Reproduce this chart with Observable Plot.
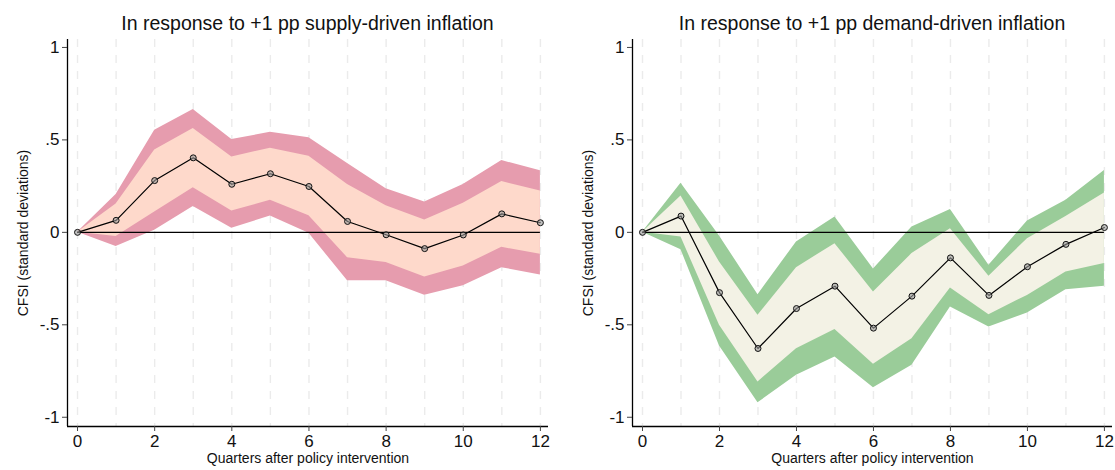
<!DOCTYPE html>
<html>
<head>
<meta charset="utf-8">
<script src="https://cdn.jsdelivr.net/npm/d3@7"></script>
<script src="https://cdn.jsdelivr.net/npm/@observablehq/plot@0.6"></script>
<style>
  html, body { margin: 0; padding: 0; background: #fff; }
  body { width: 1115px; height: 470px; position: relative; overflow: hidden; font-family: "Liberation Sans", Arial, sans-serif; }
  .panel { position: absolute; top: 0; width: 557px; height: 470px; }
  .title { position: absolute; top: 11px; font-size: 19.5px; line-height: 24px; color: #111; white-space: nowrap; text-align: center; }
  .panel svg { position: absolute; top: 39px; left: 0; overflow: visible; }
</style>
</head>
<body>
<div id="left" class="panel" style="left:0px"></div>
<div id="right" class="panel" style="left:558px"></div>
<script>
// ---------- data ----------
const quarters = [0, 1, 2, 3, 4, 5, 6, 7, 8, 9, 10, 11, 12];
const yTicks = [-1, -0.5, 0, 0.5, 1];
const xTicks = [0, 2, 4, 6, 8, 10, 12];

// Supply-driven inflation response
const supplyIRF     = [0, 0.065, 0.280, 0.403, 0.260, 0.317, 0.248, 0.059, -0.013, -0.088, -0.014, 0.100, 0.052];
const supplyUpper90 = [0, 0.205, 0.552, 0.664, 0.502, 0.541, 0.511, 0.372, 0.236, 0.164, 0.259, 0.388, 0.333];
const supplyUpper68 = [0, 0.153, 0.446, 0.561, 0.408, 0.455, 0.412, 0.259, 0.144, 0.067, 0.158, 0.275, 0.223];
const supplyLower68 = [0, -0.023, 0.110, 0.241, 0.115, 0.173, 0.090, -0.137, -0.163, -0.241, -0.182, -0.081, -0.119];
const supplyLower90 = [0, -0.077, 0.011, 0.140, 0.022, 0.088, -0.005, -0.262, -0.262, -0.340, -0.289, -0.191, -0.230];

// Demand-driven inflation response
const demandIRF     = [0, 0.088, -0.326, -0.628, -0.412, -0.291, -0.518, -0.345, -0.138, -0.341, -0.186, -0.065, 0.026];
const demandUpper90 = [0, 0.265, -0.020, -0.337, -0.052, 0.083, -0.198, 0.029, 0.123, -0.178, 0.061, 0.173, 0.335];
const demandUpper68 = [0, 0.196, -0.160, -0.449, -0.191, -0.061, -0.323, -0.115, 0.020, -0.238, -0.034, 0.086, 0.213];
const demandLower68 = [0, -0.025, -0.503, -0.809, -0.629, -0.526, -0.714, -0.575, -0.301, -0.445, -0.341, -0.214, -0.169];
const demandLower90 = [0, -0.094, -0.614, -0.922, -0.773, -0.674, -0.840, -0.719, -0.404, -0.512, -0.436, -0.310, -0.292];

const titles = ["In response to +1 pp supply-driven inflation", "In response to +1 pp demand-driven inflation"];
const yLabel = "CFSI (standard deviations)";
const xLabel = "Quarters after policy intervention";

const darkColors = ["#e69cae", "#9acc99"];
const lightColors = ["#fed9cb", "#f3f2e5"];

// ---------- drawing ----------
const xDomain = [-0.26, 12.21];
const yDomain = [-1.05, 1.043];
const fmtY = d => d === 0 ? "0" : String(d).replace("0.", ".");

function panel(el, idx, irf, up90, up68, lo68, lo90, marginLeft, marginRight) {
  const rows = quarters.map((q, i) => ({q, irf: irf[i], up90: up90[i], up68: up68[i], lo68: lo68[i], lo90: lo90[i]}));
  const W = 557, H = 431;
  const chart = Plot.plot({
    width: W, height: H,
    marginLeft, marginRight, marginTop: 0, marginBottom: 44,
    style: {fontFamily: "Liberation Sans, Arial, sans-serif", fontSize: "17px", background: "transparent", overflow: "visible", color: "#111"},
    x: {domain: xDomain},
    y: {domain: yDomain},
    marks: [
      Plot.ruleX(quarters, {stroke: "#ebebeb", strokeWidth: 1.4, strokeDasharray: "8,8"}),
      Plot.areaY(rows, {x: "q", y1: "lo90", y2: "up90", fill: darkColors[idx]}),
      Plot.areaY(rows, {x: "q", y1: "lo68", y2: "up68", fill: lightColors[idx]}),
      Plot.ruleY([0], {x1: quarters[0], x2: quarters[quarters.length - 1], stroke: "#000", strokeWidth: 1.3}),
      Plot.line(rows, {x: "q", y: "irf", stroke: "#000", strokeWidth: 1.2}),
      Plot.dot(rows, {x: "q", y: "irf", r: 3, stroke: "#111", strokeWidth: 1, fill: "#9a9a9a", fillOpacity: 0.6}),
      Plot.ruleX([xDomain[0]], {stroke: "#000", strokeWidth: 1.3}),
      Plot.ruleY([yDomain[0]], {stroke: "#000", strokeWidth: 1.3}),
      Plot.axisY(yTicks, {tickFormat: fmtY, tickSize: 5, tickPadding: 3, label: null, stroke: "#444"}),
      Plot.axisX(xTicks, {tickFormat: d => String(d), tickSize: 5, tickPadding: 3, label: null, stroke: "#444"}),
      Plot.text([yLabel], {text: d => d, frameAnchor: "left", rotate: -90, dx: -44, fontSize: 14, fill: "#111", textAnchor: "middle"}),
      Plot.text([xLabel], {text: d => d, frameAnchor: "bottom", dy: 36, fontSize: 14, fill: "#111", textAnchor: "middle"})
    ]
  });
  const t = document.createElement("div");
  t.className = "title";
  t.textContent = titles[idx];
  const cx = marginLeft + (W - marginLeft - marginRight) / 2;
  t.style.left = (cx - 300) + "px";
  t.style.width = "600px";
  el.appendChild(t);
  el.appendChild(chart);
}

panel(document.getElementById("left"), 0, supplyIRF, supplyUpper90, supplyUpper68, supplyLower68, supplyLower90, 67, 9);
panel(document.getElementById("right"), 1, demandIRF, demandUpper90, demandUpper68, demandLower68, demandLower90, 74, 3);
</script>
</body>
</html>
